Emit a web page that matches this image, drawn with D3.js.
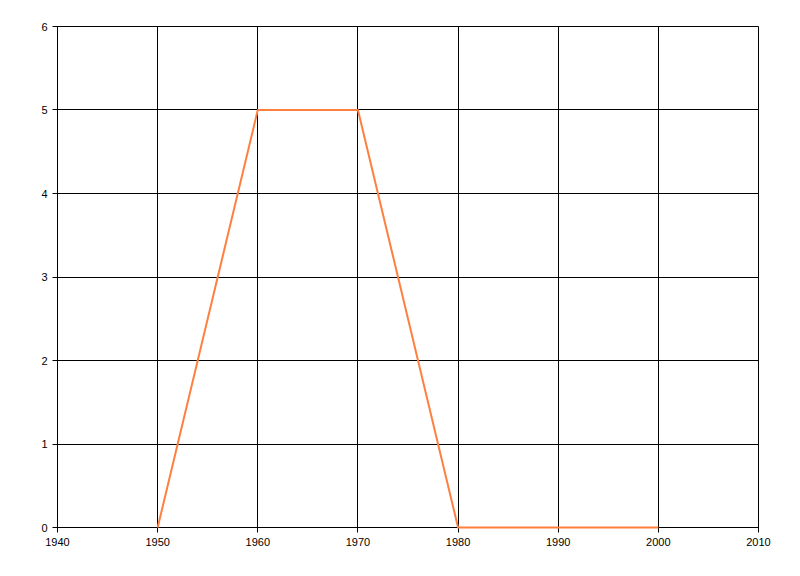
<!DOCTYPE html>
<html><head><meta charset="utf-8">
<script src="https://cdn.jsdelivr.net/npm/d3@7"></script>
<style>body{margin:0;background:#fff;}svg{display:block;}</style>
</head><body>
<svg id="c" width="800" height="576"></svg>
<script>
const years = [1950, 1960, 1970, 1980, 1990, 2000];
const values = [0, 5, 5, 0, 0, 0];
const xTicks = [1940, 1950, 1960, 1970, 1980, 1990, 2000, 2010];
const yTicks = [0, 1, 2, 3, 4, 5, 6];

const svg = d3.select("#c");
const L = 57.5, R = 758.5, T = 26.5, B = 527.5;
const x = d3.scaleLinear().domain([1940, 2010]).range([L, R]);
const y = d3.scaleLinear().domain([0, 6]).range([B, T]);

const g = svg.append("g");
// grid
g.selectAll(".vx").data(xTicks).enter().append("line")
  .attr("x1", d => Math.round(x(d) - 0.5) + 0.5).attr("x2", d => Math.round(x(d) - 0.5) + 0.5)
  .attr("y1", T).attr("y2", B + 5).attr("stroke", "#000").attr("stroke-width", 1);
g.selectAll(".hy").data(yTicks).enter().append("line")
  .attr("y1", d => Math.round(y(d) - 0.5) + 0.5).attr("y2", d => Math.round(y(d) - 0.5) + 0.5)
  .attr("x1", L - 5).attr("x2", R).attr("stroke", "#000").attr("stroke-width", 1);

// labels
g.selectAll(".xl").data(xTicks).enter().append("text")
  .attr("x", d => x(d)).attr("y", B + 18)
  .attr("text-anchor", "middle").attr("font-family", "'Liberation Sans', Arial, sans-serif").attr("font-size", 11)
  .attr("fill", "#000").text(d => d);
g.selectAll(".yl").data(yTicks).enter().append("text")
  .attr("x", L - 10).attr("y", d => y(d) + 4)
  .attr("text-anchor", "end").attr("font-family", "'Liberation Sans', Arial, sans-serif").attr("font-size", 11)
  .attr("fill", "#000").text(d => d);

const line = d3.line().x((d, i) => x(years[i])).y(d => y(d));
svg.append("path").datum(values).attr("d", line)
  .attr("fill", "none").attr("stroke", "#ff7f3f").attr("stroke-width", 2)
  .attr("stroke-linejoin", "round");
</script>
</body></html>
